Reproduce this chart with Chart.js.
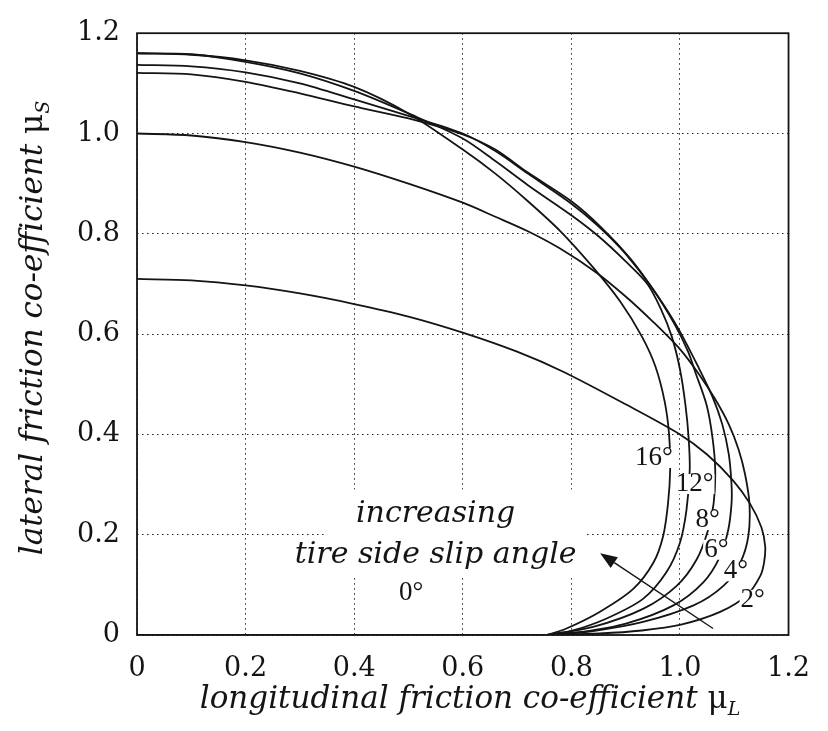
<!DOCTYPE html>
<html>
<head>
<meta charset="utf-8">
<script src="https://cdn.jsdelivr.net/npm/chart.js@4.4.1/dist/chart.umd.min.js"></script>
<style>
  html, body { margin: 0; background: #fff; }
  #wrap { width: 828px; height: 731px; }
</style>
</head>
<body>
<div id="wrap"><canvas id="frictionChart" width="828" height="731"></canvas></div>
<script>
// axis ticks (same on both axes)
const muTicks = [0, 0.2, 0.4, 0.6, 0.8, 1.0, 1.2];

// slip angle of each curve
const slipAngles = ["0°", "2°", "4°", "6°", "8°", "12°", "16°"];

// friction curves as [mu_L, mu_S] pairs
const slip0 = [[0, 0], [0.755, 0]];
const slip2 = [
  [0, 0.71], [0.1, 0.707], [0.2, 0.697], [0.3, 0.681], [0.4, 0.66], [0.5, 0.635],
  [0.6, 0.603], [0.7, 0.565], [0.785, 0.525], [0.9, 0.46], [1.0, 0.4], [1.05, 0.36],
  [1.098, 0.308], [1.129, 0.262], [1.15, 0.215], [1.157, 0.177], [1.155, 0.145],
  [1.148, 0.118], [1.123, 0.079], [1.074, 0.046], [1.0, 0.02], [0.93, 0.009],
  [0.852, 0.003], [0.755, 0]
];
const slip4 = [
  [0, 1.0], [0.1, 0.996], [0.2, 0.983], [0.3, 0.962], [0.4, 0.934], [0.5, 0.9],
  [0.6, 0.862], [0.66, 0.834], [0.72, 0.805], [0.78, 0.77], [0.847, 0.722],
  [0.9, 0.675], [0.95, 0.625], [1.0, 0.57], [1.035, 0.52], [1.065, 0.47],
  [1.09, 0.42], [1.108, 0.37], [1.12, 0.32], [1.128, 0.262], [1.126, 0.197],
  [1.111, 0.144], [1.08, 0.098], [1.025, 0.059], [0.932, 0.026], [0.84, 0.008], [0.755, 0]
];
const slip6 = [
  [0, 1.121], [0.1, 1.118], [0.2, 1.103], [0.3, 1.08], [0.4, 1.054], [0.5, 1.03],
  [0.6, 0.998], [0.66, 0.968], [0.72, 0.922], [0.8, 0.865], [0.853, 0.815],
  [0.909, 0.75], [0.959, 0.676], [0.997, 0.611], [1.034, 0.534], [1.06, 0.475],
  [1.078, 0.42], [1.09, 0.36], [1.095, 0.3], [1.095, 0.262], [1.089, 0.21],
  [1.074, 0.157], [1.043, 0.105], [0.988, 0.059], [0.902, 0.023], [0.82, 0.006], [0.755, 0]
];
const slip8 = [
  [0, 1.137], [0.1, 1.134], [0.2, 1.122], [0.3, 1.1], [0.4, 1.068], [0.5, 1.035],
  [0.6, 1.0], [0.66, 0.965], [0.72, 0.92], [0.8, 0.86], [0.85, 0.815], [0.9, 0.76],
  [0.95, 0.69], [0.99, 0.62], [1.015, 0.565], [1.028, 0.525], [1.049, 0.459],
  [1.06, 0.393], [1.065, 0.328], [1.062, 0.262], [1.052, 0.21], [1.031, 0.151],
  [0.994, 0.098], [0.932, 0.052], [0.84, 0.016], [0.755, 0]
];
const slip12 = [
  [0, 1.16], [0.1, 1.158], [0.2, 1.143], [0.3, 1.12], [0.4, 1.085], [0.5, 1.04],
  [0.6, 0.99], [0.66, 0.945], [0.72, 0.897], [0.8, 0.837], [0.85, 0.795],
  [0.9, 0.745], [0.94, 0.7], [0.965, 0.65], [0.985, 0.595], [1.0, 0.53],
  [1.01, 0.46], [1.016, 0.393], [1.018, 0.328], [1.012, 0.249], [1.0, 0.184],
  [0.975, 0.125], [0.932, 0.072], [0.865, 0.033], [0.8, 0.008], [0.755, 0]
];
const slip16 = [
  [0, 1.16], [0.1, 1.157], [0.2, 1.146], [0.3, 1.125], [0.4, 1.093], [0.5, 1.04],
  [0.6, 0.968], [0.66, 0.92], [0.72, 0.865], [0.78, 0.805], [0.84, 0.733],
  [0.89, 0.665], [0.93, 0.595], [0.955, 0.535], [0.972, 0.465], [0.98, 0.4],
  [0.982, 0.33], [0.978, 0.262], [0.969, 0.197], [0.951, 0.144], [0.914, 0.092],
  [0.852, 0.046], [0.791, 0.013], [0.755, 0]
];

const curves = [slip0, slip2, slip4, slip6, slip8, slip12, slip16];

// where each slip-angle label sits (data units), same order as slipAngles
const labelAt = [
  [0.505, 0.084], [1.134, 0.07], [1.103, 0.127], [1.067, 0.17],
  [1.051, 0.229], [1.027, 0.301], [0.952, 0.353]
];

const SERIF = '"DejaVu Serif", "Liberation Serif", serif';
const INK = '#141414';

// title with an upright mu and a small italic subscript
function drawAxisTitle(ctx, cx, cy, angle, words, sub) {
  const size = 31;
  const mainFont = `italic ${size}px ${SERIF}`;
  const muFont = `${size}px ${SERIF}`;
  const subFont = `italic ${Math.round(size * 0.6)}px ${SERIF}`;
  ctx.save();
  ctx.translate(cx, cy);
  ctx.rotate(angle);
  ctx.fillStyle = INK;
  ctx.textAlign = 'left';
  ctx.textBaseline = 'alphabetic';
  ctx.font = mainFont; const w1 = ctx.measureText(words).width;
  ctx.font = muFont; const w2 = ctx.measureText('μ').width;
  ctx.font = subFont; const w3 = ctx.measureText(sub).width;
  let x = -(w1 + w2 + w3) / 2;
  const base = size * 0.33;
  ctx.font = mainFont; ctx.fillText(words, x, base); x += w1;
  ctx.font = muFont; ctx.fillText('μ', x, base); x += w2;
  ctx.font = subFont; ctx.fillText(sub, x, base + size * 0.22);
  ctx.restore();
}

const decorations = {
  id: 'decorations',
  beforeDatasetsDraw(chart) {
    const { ctx, scales: { x, y } } = chart;
    // blank patch behind the "increasing ..." note
    const l = x.getPixelForValue(0.35), r = x.getPixelForValue(0.826);
    const t = y.getPixelForValue(0.29), b = y.getPixelForValue(0.117);
    ctx.save();
    ctx.fillStyle = '#fff';
    ctx.fillRect(l, t, r - l, b - t);
    ctx.restore();
  },
  afterDatasetsDraw(chart) {
    const { ctx, scales: { x, y } } = chart;
    ctx.save();

    // slip angle labels, each on a white patch over its curve
    ctx.font = `27px "Liberation Serif", serif`;
    ctx.textAlign = 'center';
    ctx.textBaseline = 'middle';
    slipAngles.forEach((txt, i) => {
      const px = x.getPixelForValue(labelAt[i][0]);
      const py = y.getPixelForValue(labelAt[i][1]);
      const w = ctx.measureText(txt).width;
      ctx.fillStyle = '#fff';
      ctx.fillRect(px - w / 2 - 1, py - 10, w + 2, 20);
      ctx.fillStyle = INK;
      ctx.fillText(txt, px, py);
    });

    // note text
    ctx.font = `italic 30px ${SERIF}`;
    ctx.fillStyle = INK;
    const nx = x.getPixelForValue(0.55);
    ctx.fillText('increasing', nx, y.getPixelForValue(0.241));
    ctx.fillText('tire side slip angle', nx, y.getPixelForValue(0.160));

    // arrow pointing toward larger slip angles
    const x0 = x.getPixelForValue(1.061), y0 = y.getPixelForValue(0.013);
    const x1 = x.getPixelForValue(0.853), y1 = y.getPixelForValue(0.163);
    const ang = Math.atan2(y1 - y0, x1 - x0);
    const head = 17, half = 6.5;
    const bx = x1 - head * Math.cos(ang), by = y1 - head * Math.sin(ang);
    ctx.strokeStyle = INK;
    ctx.lineWidth = 1.4;
    ctx.beginPath();
    ctx.moveTo(x0, y0);
    ctx.lineTo(bx, by);
    ctx.stroke();
    ctx.beginPath();
    ctx.moveTo(x1, y1);
    ctx.lineTo(bx + half * Math.sin(ang), by - half * Math.cos(ang));
    ctx.lineTo(bx - half * Math.sin(ang), by + half * Math.cos(ang));
    ctx.closePath();
    ctx.fill();
    ctx.restore();
  },
  afterDraw(chart) {
    const { ctx, chartArea: a } = chart;
    ctx.save();
    ctx.strokeStyle = INK;
    ctx.lineWidth = 1.8;
    ctx.strokeRect(a.left, a.top, a.right - a.left, a.bottom - a.top);
    ctx.restore();
    drawAxisTitle(ctx, 470, 698, 0, 'longitudinal friction co-efficient ', 'L');
    drawAxisTitle(ctx, 32, 328, -Math.PI / 2, 'lateral friction co-efficient ', 'S');
  }
};

const tickLabel = v => (v === 0 ? '0' : Number(v).toFixed(1));

const axisBase = {
  type: 'linear',
  min: 0,
  max: 1.2,
  afterBuildTicks: scale => { scale.ticks = muTicks.map(v => ({ value: v })); },
  grid: { color: '#262626', lineWidth: 1, drawTicks: false },
  border: { display: false, dash: [1.5, 3.5] },
  ticks: { color: INK, font: { family: SERIF, size: 27 }, callback: tickLabel }
};

new Chart(document.getElementById('frictionChart'), {
  type: 'scatter',
  data: {
    datasets: curves.map((pts, i) => ({
      label: slipAngles[i],
      data: pts.map(([l, s]) => ({ x: l, y: s })),
      showLine: true,
      borderColor: INK,
      borderWidth: 1.8,
      pointRadius: 0,
      tension: 0.3,
      fill: false
    }))
  },
  options: {
    responsive: false,
    animation: false,
    layout: { padding: { top: 22, right: 30, left: 0, bottom: 0 } },
    plugins: { legend: { display: false }, tooltip: { enabled: false } },
    scales: {
      x: {
        ...axisBase,
        ticks: { ...axisBase.ticks, padding: 18, maxRotation: 0 },
        afterFit: scale => { scale.height = 96; }
      },
      y: {
        ...axisBase,
        ticks: { ...axisBase.ticks, padding: 17 },
        afterFit: scale => { scale.width = 137; }
      }
    }
  },
  plugins: [decorations]
});
</script>
</body>
</html>
